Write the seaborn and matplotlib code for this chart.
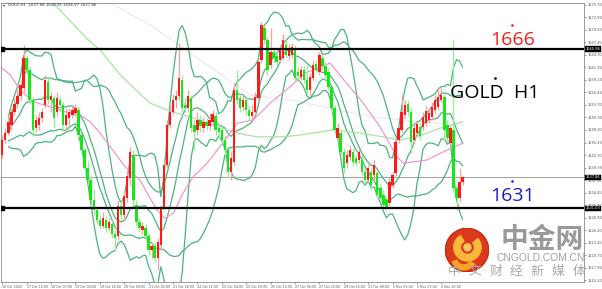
import numpy as np
import pandas as pd
import matplotlib
matplotlib.use("Agg")
import matplotlib.pyplot as plt
import seaborn as sns
from matplotlib.patches import Circle, Wedge

sns.set_theme(style="white")
plt.rcParams['font.family'] = ['DejaVu Sans']

# ---------------- data (2-hour bars) ----------------
opens = [1642.7, 1646.0, 1647.5, 1649.3, 1652.2, 1653.9, 1655.7, 1657.4, 1664.0, 1661.4,
         1654.8, 1648.6, 1649.3, 1650.8, 1653.7, 1658.8, 1654.8, 1655.2, 1652.2, 1654.8,
         1653.7, 1649.3, 1650.8, 1651.5, 1651.9, 1652.6, 1647.1, 1643.8, 1639.8, 1637.2,
         1632.8, 1630.6, 1628.4, 1627.1, 1628.4, 1626.6, 1627.5, 1625.3, 1624.9, 1631.5,
         1629.5, 1633.2, 1637.6, 1642.7, 1631.7, 1628.0, 1626.2, 1626.6, 1624.9, 1621.8,
         1622.7, 1620.0, 1622.9, 1631.0, 1640.5, 1649.3, 1652.2, 1654.8, 1655.7, 1659.2,
         1653.7, 1653.0, 1655.2, 1649.3, 1648.2, 1650.4, 1648.6, 1650.0, 1649.1, 1650.0,
         1651.3, 1648.6, 1648.2, 1646.0, 1643.8, 1639.0, 1641.2, 1657.0, 1655.2, 1653.3,
         1654.8, 1652.6, 1651.3, 1652.2, 1655.2, 1663.6, 1670.6, 1668.0, 1662.5, 1665.4,
         1664.5, 1663.6, 1664.0, 1666.9, 1664.5, 1664.7, 1666.2, 1661.0, 1659.9, 1661.4,
         1659.2, 1657.0, 1659.6, 1662.7, 1661.0, 1664.0, 1662.3, 1661.0, 1657.7, 1653.0,
         1646.4, 1647.5, 1643.4, 1640.9, 1642.3, 1643.4, 1642.0, 1641.6, 1641.6, 1639.0,
         1637.2, 1639.0, 1638.3, 1638.7, 1635.4, 1633.9, 1632.8, 1632.1, 1636.1, 1638.7,
         1646.0, 1648.2, 1651.5, 1653.9, 1652.2, 1646.0, 1647.5, 1648.9, 1648.9, 1649.7,
         1650.4, 1651.1, 1652.6, 1653.3, 1654.8, 1655.5, 1649.3, 1645.3, 1648.2, 1635.4,
         1633.2, 1636.8]
highs = [1647.1, 1648.6, 1651.5, 1653.0, 1655.2, 1657.0, 1659.2, 1666.9, 1664.7, 1662.3,
         1655.5, 1651.5, 1652.2, 1653.0, 1660.3, 1659.6, 1656.6, 1655.9, 1656.6, 1655.5,
         1654.4, 1653.0, 1653.0, 1653.7, 1653.9, 1653.5, 1647.8, 1644.2, 1641.6, 1638.1,
         1635.0, 1631.3, 1629.5, 1630.2, 1629.3, 1628.8, 1628.4, 1626.2, 1632.8, 1632.8,
         1635.0, 1639.4, 1644.5, 1643.8, 1632.8, 1628.8, 1628.0, 1627.5, 1625.5, 1623.6,
         1623.6, 1624.4, 1631.7, 1642.0, 1650.4, 1653.7, 1656.1, 1657.0, 1667.3, 1660.3,
         1655.2, 1657.0, 1655.9, 1650.4, 1652.2, 1651.5, 1651.1, 1650.8, 1651.9, 1652.6,
         1652.2, 1649.5, 1649.1, 1647.1, 1644.2, 1643.4, 1658.5, 1661.4, 1656.1, 1655.9,
         1655.7, 1653.7, 1653.7, 1656.6, 1664.0, 1672.0, 1671.3, 1668.7, 1670.6, 1666.2,
         1665.4, 1666.9, 1669.3, 1668.0, 1667.1, 1667.3, 1666.9, 1662.3, 1662.3, 1662.3,
         1662.5, 1660.7, 1663.6, 1663.6, 1665.4, 1664.7, 1663.2, 1661.8, 1658.1, 1653.7,
         1649.7, 1648.2, 1644.2, 1643.8, 1644.9, 1644.2, 1642.9, 1644.2, 1642.7, 1639.8,
         1640.7, 1639.8, 1641.6, 1639.4, 1636.5, 1635.0, 1633.7, 1637.6, 1639.0, 1646.4,
         1649.3, 1655.9, 1654.8, 1654.8, 1653.0, 1649.5, 1650.4, 1649.7, 1652.2, 1653.5,
         1653.0, 1654.4, 1655.9, 1657.7, 1657.4, 1656.1, 1650.4, 1649.3, 1668.0, 1636.1,
         1639.8, 1638.1]
lows = [1642.0, 1645.3, 1647.1, 1648.2, 1651.5, 1653.0, 1654.8, 1656.6, 1660.5, 1653.9,
        1646.9, 1647.8, 1648.2, 1650.0, 1653.0, 1653.9, 1652.2, 1648.6, 1651.3, 1652.2,
        1648.2, 1648.2, 1649.3, 1650.8, 1651.3, 1646.0, 1643.4, 1639.0, 1636.1, 1631.5,
        1629.5, 1627.5, 1626.4, 1626.6, 1625.8, 1626.0, 1624.4, 1621.8, 1624.0, 1628.4,
        1628.4, 1632.4, 1636.1, 1631.3, 1627.1, 1625.8, 1625.3, 1624.0, 1620.7, 1620.0,
        1619.2, 1617.4, 1621.8, 1630.6, 1639.8, 1648.6, 1651.5, 1653.0, 1654.8, 1652.2,
        1652.2, 1652.2, 1647.8, 1643.8, 1647.1, 1647.8, 1647.8, 1648.2, 1648.2, 1649.3,
        1647.1, 1646.4, 1644.9, 1642.7, 1637.6, 1637.2, 1640.5, 1653.9, 1652.2, 1652.6,
        1651.5, 1650.4, 1650.0, 1651.5, 1654.4, 1662.9, 1667.1, 1660.3, 1661.8, 1663.2,
        1662.3, 1662.9, 1663.6, 1664.0, 1663.6, 1664.0, 1658.8, 1659.2, 1659.2, 1658.5,
        1656.1, 1655.9, 1659.2, 1661.0, 1660.3, 1661.4, 1659.2, 1657.0, 1652.2, 1647.3,
        1645.3, 1642.7, 1638.7, 1639.8, 1641.6, 1640.3, 1640.3, 1640.9, 1638.3, 1636.1,
        1636.8, 1635.0, 1637.2, 1633.2, 1632.4, 1630.6, 1630.6, 1631.5, 1635.4, 1638.1,
        1645.3, 1647.8, 1650.8, 1651.3, 1643.1, 1645.3, 1646.9, 1646.0, 1648.2, 1649.1,
        1649.7, 1650.4, 1651.9, 1652.6, 1654.4, 1646.0, 1645.6, 1644.9, 1634.6, 1630.6,
        1632.4, 1636.1]
closes = [1646.0, 1647.5, 1650.0, 1652.2, 1653.9, 1655.7, 1658.1, 1664.0, 1661.4, 1654.8,
          1648.2, 1650.4, 1650.8, 1652.2, 1659.2, 1654.8, 1655.7, 1650.8, 1655.2, 1653.7,
          1649.3, 1651.5, 1652.2, 1652.6, 1653.0, 1647.1, 1643.8, 1639.8, 1637.2, 1632.8,
          1630.6, 1628.4, 1627.1, 1628.8, 1626.6, 1628.0, 1625.3, 1624.4, 1631.5, 1629.5,
          1633.7, 1638.1, 1643.4, 1632.8, 1628.0, 1626.6, 1627.1, 1624.9, 1621.8, 1622.7,
          1620.0, 1623.6, 1631.0, 1640.5, 1649.3, 1652.2, 1654.8, 1655.7, 1659.6, 1653.0,
          1653.0, 1655.7, 1648.6, 1647.8, 1650.4, 1649.1, 1650.0, 1649.1, 1650.4, 1651.7,
          1648.2, 1647.8, 1646.0, 1643.8, 1639.0, 1642.0, 1657.0, 1654.8, 1653.0, 1654.8,
          1652.6, 1651.3, 1652.2, 1655.5, 1663.2, 1671.3, 1668.0, 1661.4, 1665.4, 1664.0,
          1663.2, 1665.8, 1668.0, 1664.7, 1666.2, 1666.5, 1659.6, 1660.1, 1661.4, 1659.2,
          1657.0, 1659.9, 1662.5, 1661.4, 1664.7, 1662.3, 1660.3, 1657.7, 1653.0, 1648.2,
          1648.6, 1643.4, 1639.8, 1642.7, 1643.8, 1641.2, 1640.9, 1643.4, 1639.0, 1637.2,
          1639.8, 1636.1, 1640.5, 1633.9, 1633.2, 1631.7, 1631.3, 1636.8, 1638.3, 1645.6,
          1648.6, 1652.2, 1653.7, 1652.2, 1645.6, 1648.6, 1649.5, 1646.9, 1651.1, 1652.4,
          1651.9, 1653.3, 1654.8, 1655.5, 1655.9, 1648.2, 1646.4, 1648.6, 1635.4, 1633.2,
          1636.8, 1637.9]

tick_bars = [0, 8, 16, 24, 32, 40, 48, 56, 64, 72, 80, 88, 96, 104, 112, 120, 128, 136, 144]
tick_labels = ["16 Oct 2022", "17 Oct 14:00", "18 Oct 07:00", "19 Oct 00:00", "19 Oct 16:00",
               "20 Oct 09:00", "21 Oct 02:00", "21 Oct 18:00", "24 Oct 11:00", "25 Oct 04:00",
               "25 Oct 20:00", "26 Oct 13:00", "27 Oct 06:00", "27 Oct 23:00", "28 Oct 15:00",
               "31 Oct 08:00", "1 Nov 01:00", "1 Nov 17:00", "2 Nov 10:00"]
price_ticks = [1615.20, 1617.95, 1620.70, 1623.45, 1626.20, 1628.95, 1631.70, 1634.45,
               1637.20, 1639.95, 1642.70, 1645.45, 1648.20, 1650.95, 1653.70, 1656.45,
               1659.20, 1661.95, 1664.70, 1667.45, 1670.20, 1672.95, 1675.70]

# moving averages (bar position, price)
pink_bar = [0, 2.6, 5.9, 10.2, 15.7, 20.7, 25.6, 28.9, 32.1, 37.0, 40.3, 45.2, 48.5, 50.8,
            53.4, 56.1, 59.3, 62.6, 67.2, 70.5, 74.8, 77.0, 82.3, 87.9, 94.4, 99.3, 107.5,
            118.4, 123.9, 129.5, 131.5, 139.3, 145.9, 151.1]
pink_val = [1661.8, 1660.3, 1657.0, 1654.4, 1653.3, 1652.2, 1651.5, 1650.0, 1647.5, 1643.1,
            1640.1, 1637.2, 1633.2, 1630.6, 1628.8, 1629.9, 1634.3, 1637.9, 1640.9, 1643.8,
            1647.5, 1649.7, 1650.4, 1654.1, 1657.7, 1660.7, 1662.9, 1654.1, 1648.9, 1642.3,
            1640.9, 1641.6, 1643.8, 1645.3]
long_bar = [16.7, 28.2, 32.1, 38.7, 46.2, 48.5, 54.1, 59.3, 64.9, 70.5, 77.0, 83.6, 92.1,
            97.7, 104.3, 108.5, 117.4, 124.9, 130.5, 137.0, 143.6, 151.1]
long_val = [1676.1, 1668.0, 1665.8, 1660.3, 1655.5, 1654.1, 1652.6, 1651.5, 1650.4, 1648.9,
            1647.5, 1646.7, 1646.7, 1647.1, 1647.8, 1648.2, 1647.5, 1646.7, 1646.0, 1646.9,
            1648.6, 1650.0]
faint_bar = [35.4, 48.5, 64.9, 81.3, 94.4, 107.5, 120.7, 137.0, 151.1]
faint_val = [1676.1, 1671.3, 1663.6, 1655.9, 1654.8, 1653.0, 1651.1, 1650.0, 1649.3]

resistance = 1666.0
support = 1631.0
last_price = 1637.86

# ---------------- figure ----------------
W, H = 602, 289
fig = plt.figure(figsize=(W / 100, H / 100), dpi=100)
fig.patch.set_facecolor("white")
ax = fig.add_axes([1 / W, (H - 282) / H, 583 / W, 279 / H])
ax.set_facecolor("white")

df = pd.DataFrame({"bar": np.arange(len(closes)), "open": opens, "high": highs,
                   "low": lows, "close": closes})
up = df["close"] >= df["open"]

# Bollinger bands from the closes
s = df["close"]
mid1 = s.rolling(10, min_periods=3).mean()
sd1 = s.rolling(10, min_periods=3).std(ddof=0)
mid2 = s.rolling(22, min_periods=3).mean()
sd2 = s.rolling(22, min_periods=3).std(ddof=0)
bb_col = "#4db37e"
for series in [mid1 + 2 * sd1, mid1, mid1 - 2 * sd1, mid2 + 1.2 * sd2, mid2 - 1.2 * sd2]:
    sns.lineplot(x=df["bar"], y=series, ax=ax, color=bb_col, lw=0.9, zorder=2)

sns.lineplot(x=faint_bar, y=faint_val, ax=ax, color="#f1e8f1", lw=0.9, zorder=1)
sns.lineplot(x=long_bar, y=long_val, ax=ax, color="#a6e6a0", lw=0.9, zorder=2)
sns.lineplot(x=pink_bar, y=pink_val, ax=ax, color="#f58cc8", lw=0.8, zorder=2)

# candles (red = up, green = down)
ax.vlines(df["bar"][up], df["low"][up], df["high"][up], color="#ff9e9e", lw=0.9, zorder=3)
ax.vlines(df["bar"][~up], df["low"][~up], df["high"][~up], color="#96ee96", lw=0.9, zorder=3)
ax.bar(df["bar"][up], (df["close"] - df["open"])[up], bottom=df["open"][up],
       width=0.78, color="#ff1a1a", lw=0, zorder=4)
ax.bar(df["bar"][~up], (df["close"] - df["open"])[~up], bottom=df["open"][~up],
       width=0.78, color="#19e619", lw=0, zorder=4)

# levels
ax.axhline(resistance, color="black", lw=1.6, zorder=5)
ax.axhline(support, color="black", lw=1.6, zorder=5)
ax.axhline(last_price, color="#a0a0a0", lw=0.7, zorder=1)
ax.plot([0.0, 0.0], [resistance, support], ls="none", marker="s", ms=2.2, color="black",
        zorder=6)

ax.set_xlim(-0.4, 190.8)
ax.set_ylim(1614.8, 1676.1)
ax.yaxis.tick_right()
ax.set_yticks(price_ticks)
ax.set_yticklabels([f"{v:.2f}" for v in price_ticks])
ax.set_xticks(tick_bars)
ax.set_xticklabels(tick_labels)
ax.tick_params(axis="y", labelsize=2.6, length=1.5, width=0.4, pad=1.0, colors="#555555",
               right=True, left=False)
ax.tick_params(axis="x", labelsize=2.3, length=1.5, width=0.4, pad=0.8, colors="#555555",
               bottom=True)
for lab in ax.get_xticklabels():
    lab.set_horizontalalignment("left")
ax.set_xlabel("")
ax.set_ylabel("")
for side in ["left", "top", "right", "bottom"]:
    ax.spines[side].set_color("#8a8a8a")
    ax.spines[side].set_linewidth(0.6)

# boxed price labels on the right axis
for val, txt in [(resistance, "1665.96"), (last_price, "1637.86"), (support, "1631.03")]:
    ax.annotate(txt, xy=(1.0, val), xycoords=("axes fraction", "data"),
                xytext=(1.2, 0), textcoords="offset points", fontsize=2.6, color="white",
                va="center", ha="left",
                bbox=dict(boxstyle="square,pad=0.15", fc="black", ec="black", lw=0.3))

def fx(x):
    return x / W

def fy(y):
    return 1 - y / H

# header
fig.text(fx(3), fy(5), "\u25be", fontsize=3, color="#333333", va="center")
fig.text(fx(8), fy(5), "GOLD,H1  1637.88 1638.95 1636.97 1637.86", fontsize=2.8,
         color="#333333", va="center")

# annotations
txt_font = ["Open Sans", "DejaVu Sans"]
fig.text(fx(513), fy(40), "1666", fontsize=14, color="#f0201a", ha="center", va="center",
         family=txt_font)
fig.text(fx(495), fy(93), "GOLD  H1", fontsize=14, color="black", ha="center", va="center",
         family=txt_font)
fig.text(fx(512), fy(196), "1631", fontsize=14, color="#1c1ccc", ha="center", va="center",
         family=txt_font)
for (px, py, c) in [(512, 25, "#f0201a"), (495, 78, "black"), (512, 181, "#1c1ccc")]:
    fig.add_artist(plt.Line2D([fx(px)], [fy(py)], marker="s", ms=0.8, color=c, ls="none"))

# watermark
fig.text(fx(542), fy(240.5), "中金网", fontsize=20, color="#9a9a9a", ha="center", va="center",
         family=["Noto Sans CJK SC", "DejaVu Sans"], fontweight="bold", zorder=10)
fig.text(fx(541), fy(258), "CNGOLD.COM.CN", fontsize=7.4, color="#a0a0a0", ha="center",
         va="center", family=["Liberation Sans", "DejaVu Sans"], zorder=10)
sub = "中文财经新媒体"
for k, ch in enumerate(sub):
    fig.text(fx(454 + k * 20.8), fy(271), ch, fontsize=9.2, color="#a8a8a8", ha="center",
             va="center", family=["Noto Sans CJK SC", "DejaVu Sans"], zorder=10)

# logo
lax = fig.add_axes([fx(445), (H - 272) / H, 44 / W, 44 / H])
lax.set_xlim(-1, 1)
lax.set_ylim(-1, 1)
lax.set_aspect("equal")
lax.axis("off")
lax.add_patch(Circle((0, 0), 0.98, color="#dc3a1c"))
lax.add_patch(Circle((0, 0), 0.98, fill=False, ec="#c22a12", lw=0.8))
lax.add_patch(Wedge((0.02, 0.12), 0.62, 120, 400, width=0.3, color="#f8b93a"))
lax.add_patch(Wedge((-0.15, -0.35), 0.55, 200, 330, width=0.22, color="#f5a623"))
lax.add_patch(Circle((0.02, 0.12), 0.16, color="#f8c860"))

fig.savefig("out.png", dpi=100, facecolor="white")
